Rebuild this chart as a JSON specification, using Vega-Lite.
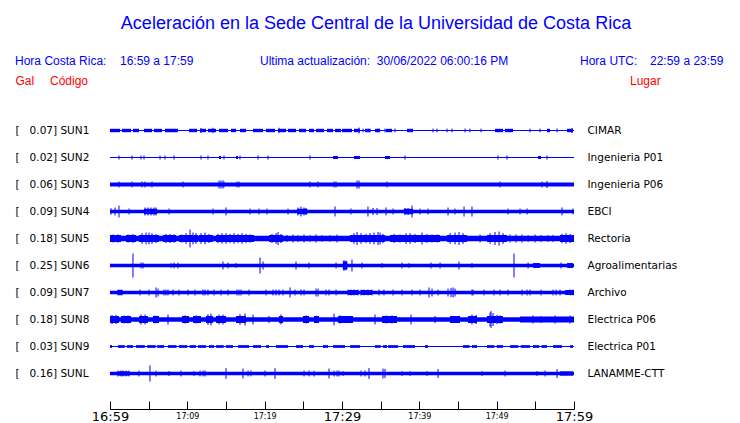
{
"$schema": "https://vega.github.io/schema/vega-lite/v6.json",
"autosize": "none",
"width": 464,
"height": 293,
"padding": {"left": 110, "top": 116, "right": 166, "bottom": 14},
"background": "white",
"config": {"view": {"stroke": null}},
"title": {"text": "Aceleración en la Sede Central de la Universidad de Costa Rica", "font": "Liberation Sans", "fontSize": 18, "fontWeight": "normal", "color": "#0000ff", "anchor": "middle", "frame": "group", "dx": 34, "offset": 22},
"datasets": {
"seg": [
{"t":0,"t2":60,"lo":-0.019,"hi":0.019},
{"t":0,"t2":1.29,"lo":-0.063,"hi":0.063},{"t":1.55,"t2":2.72,"lo":-0.063,"hi":0.063},{"t":2.97,"t2":3.75,"lo":-0.063,"hi":0.063},{"t":4.4,"t2":5.43,"lo":-0.063,"hi":0.063},{"t":5.69,"t2":6.72,"lo":-0.063,"hi":0.063},{"t":7.11,"t2":8.79,"lo":-0.063,"hi":0.063},{"t":10.22,"t2":11.25,"lo":-0.063,"hi":0.063},{"t":11.64,"t2":12.41,"lo":-0.063,"hi":0.063},{"t":12.67,"t2":13.71,"lo":-0.063,"hi":0.063},{"t":14.1,"t2":15.26,"lo":-0.063,"hi":0.063},{"t":15.65,"t2":16.29,"lo":-0.063,"hi":0.063},{"t":16.81,"t2":17.59,"lo":-0.063,"hi":0.063},{"t":18.49,"t2":19.79,"lo":-0.063,"hi":0.063},{"t":20.17,"t2":21.34,"lo":-0.063,"hi":0.063},{"t":21.72,"t2":22.76,"lo":-0.063,"hi":0.063},{"t":23.02,"t2":24.05,"lo":-0.063,"hi":0.063},{"t":24.44,"t2":25.35,"lo":-0.063,"hi":0.063},{"t":25.73,"t2":26.38,"lo":-0.063,"hi":0.063},{"t":26.64,"t2":27.67,"lo":-0.063,"hi":0.063},{"t":28.06,"t2":28.84,"lo":-0.063,"hi":0.063},{"t":29.1,"t2":29.87,"lo":-0.063,"hi":0.063},{"t":30.0,"t2":31.29,"lo":-0.063,"hi":0.063},{"t":31.55,"t2":32.33,"lo":-0.063,"hi":0.063},{"t":32.98,"t2":33.62,"lo":-0.063,"hi":0.063},{"t":34.27,"t2":34.92,"lo":-0.063,"hi":0.063},{"t":35.69,"t2":36.47,"lo":-0.063,"hi":0.063},{"t":38.41,"t2":39.18,"lo":-0.063,"hi":0.063},{"t":49.79,"t2":50.82,"lo":-0.063,"hi":0.063},{"t":51.08,"t2":52.11,"lo":-0.063,"hi":0.063},{"t":56.51,"t2":56.9,"lo":-0.063,"hi":0.063},{"t":59.1,"t2":59.87,"lo":-0.063,"hi":0.063},
{"t":0,"t2":60,"lo":0.981,"hi":1.019},
{"t":14.1,"t2":14.35,"lo":0.945,"hi":1.055},{"t":16.29,"t2":16.55,"lo":0.945,"hi":1.055},{"t":28.84,"t2":29.48,"lo":0.945,"hi":1.055},{"t":31.55,"t2":32.33,"lo":0.945,"hi":1.055},{"t":35.56,"t2":36.21,"lo":0.945,"hi":1.055},{"t":55.35,"t2":55.73,"lo":0.945,"hi":1.055},
{"t":0,"t2":60,"lo":1.926,"hi":2.074},
{"t":0,"t2":60,"lo":2.938,"hi":3.062},
{"t":4.4,"t2":6.1,"lo":2.9,"hi":3.1},{"t":24.2,"t2":25.5,"lo":2.9,"hi":3.1},{"t":38.0,"t2":39.2,"lo":2.9,"hi":3.1},
{"t":0,"t2":60,"lo":3.9,"hi":4.1},
{"t":0,"t2":1.42,"lo":3.87,"hi":4.13},{"t":2.07,"t2":3.36,"lo":3.87,"hi":4.13},{"t":3.75,"t2":6.34,"lo":3.87,"hi":4.13},{"t":6.85,"t2":8.54,"lo":3.87,"hi":4.13},{"t":8.92,"t2":11.38,"lo":3.87,"hi":4.13},{"t":11.51,"t2":13.32,"lo":3.87,"hi":4.13},{"t":13.71,"t2":18.62,"lo":3.87,"hi":4.13},{"t":20.56,"t2":22.37,"lo":3.87,"hi":4.13},{"t":31.04,"t2":35.56,"lo":3.87,"hi":4.13},{"t":36.21,"t2":42.68,"lo":3.87,"hi":4.13},{"t":43.58,"t2":46.17,"lo":3.87,"hi":4.13},{"t":48.75,"t2":51.34,"lo":3.87,"hi":4.13},{"t":58.19,"t2":60,"lo":3.87,"hi":4.13},
{"t":0,"t2":60,"lo":4.937,"hi":5.063},
{"t":54.7,"t2":55.61,"lo":4.91,"hi":5.09},{"t":59.1,"t2":59.87,"lo":4.91,"hi":5.09},{"t":30.1,"t2":30.7,"lo":4.85,"hi":5.15},
{"t":0,"t2":60,"lo":5.937,"hi":6.063},
{"t":1.0,"t2":1.6,"lo":5.91,"hi":6.09},{"t":30.78,"t2":32.07,"lo":5.91,"hi":6.09},{"t":32.46,"t2":33.88,"lo":5.91,"hi":6.09},{"t":58.84,"t2":60,"lo":5.91,"hi":6.09},
{"t":0,"t2":60,"lo":6.915,"hi":7.085},
{"t":0,"t2":1.16,"lo":6.87,"hi":7.13},{"t":1.42,"t2":2.72,"lo":6.87,"hi":7.13},{"t":3.75,"t2":4.91,"lo":6.87,"hi":7.13},{"t":5.56,"t2":6.34,"lo":6.87,"hi":7.13},{"t":9.31,"t2":10.22,"lo":6.87,"hi":7.13},{"t":10.73,"t2":11.77,"lo":6.87,"hi":7.13},{"t":12.41,"t2":13.32,"lo":6.87,"hi":7.13},{"t":13.71,"t2":15.0,"lo":6.87,"hi":7.13},{"t":16.29,"t2":17.59,"lo":6.87,"hi":7.13},{"t":21.86,"t2":22.37,"lo":6.87,"hi":7.13},{"t":24.96,"t2":25.73,"lo":6.87,"hi":7.13},{"t":26.38,"t2":27.03,"lo":6.87,"hi":7.13},{"t":29.49,"t2":31.42,"lo":6.87,"hi":7.13},{"t":35.18,"t2":37.11,"lo":6.87,"hi":7.13},{"t":43.97,"t2":45.26,"lo":6.87,"hi":7.13},{"t":46.3,"t2":47.46,"lo":6.87,"hi":7.13},{"t":48.75,"t2":50.82,"lo":6.87,"hi":7.13},{"t":53.02,"t2":60,"lo":6.89,"hi":7.11},
{"t":0,"t2":60,"lo":7.981,"hi":8.019},
{"t":0,"t2":0.26,"lo":7.95,"hi":8.05},{"t":1.03,"t2":1.9,"lo":7.95,"hi":8.05},{"t":2.2,"t2":2.97,"lo":7.95,"hi":8.05},{"t":3.36,"t2":4.5,"lo":7.95,"hi":8.05},{"t":4.8,"t2":5.9,"lo":7.95,"hi":8.05},{"t":6.1,"t2":6.98,"lo":7.95,"hi":8.05},{"t":7.5,"t2":8.6,"lo":7.95,"hi":8.05},{"t":8.9,"t2":10.0,"lo":7.95,"hi":8.05},{"t":10.3,"t2":11.12,"lo":7.95,"hi":8.05},{"t":11.38,"t2":12.41,"lo":7.95,"hi":8.05},{"t":12.8,"t2":13.45,"lo":7.95,"hi":8.05},{"t":13.71,"t2":14.7,"lo":7.95,"hi":8.05},{"t":15.0,"t2":15.91,"lo":7.95,"hi":8.05},{"t":16.55,"t2":17.98,"lo":7.95,"hi":8.05},{"t":18.49,"t2":19.53,"lo":7.95,"hi":8.05},{"t":20.17,"t2":20.56,"lo":7.95,"hi":8.05},{"t":21.47,"t2":23.02,"lo":7.95,"hi":8.05},{"t":24.05,"t2":24.96,"lo":7.95,"hi":8.05},{"t":25.73,"t2":26.38,"lo":7.95,"hi":8.05},{"t":27.54,"t2":28.19,"lo":7.95,"hi":8.05},{"t":28.84,"t2":30.39,"lo":7.95,"hi":8.05},{"t":31.04,"t2":32.33,"lo":7.95,"hi":8.05},{"t":34.27,"t2":35.0,"lo":7.95,"hi":8.05},{"t":35.3,"t2":35.82,"lo":7.95,"hi":8.05},{"t":35.95,"t2":37.24,"lo":7.95,"hi":8.05},{"t":37.89,"t2":39.44,"lo":7.95,"hi":8.05},{"t":40.74,"t2":41.12,"lo":7.95,"hi":8.05},{"t":45.65,"t2":46.5,"lo":7.95,"hi":8.05},{"t":46.8,"t2":47.46,"lo":7.95,"hi":8.05},{"t":48.75,"t2":49.7,"lo":7.95,"hi":8.05},{"t":50.0,"t2":50.82,"lo":7.95,"hi":8.05},{"t":51.73,"t2":52.8,"lo":7.95,"hi":8.05},{"t":53.1,"t2":54.31,"lo":7.95,"hi":8.05},{"t":54.7,"t2":55.5,"lo":7.95,"hi":8.05},{"t":55.8,"t2":56.51,"lo":7.95,"hi":8.05},{"t":57.29,"t2":58.45,"lo":7.95,"hi":8.05},{"t":59.49,"t2":59.87,"lo":7.95,"hi":8.05},
{"t":0,"t2":60,"lo":8.937,"hi":9.063},
{"t":1.03,"t2":2.46,"lo":8.92,"hi":9.08},{"t":58.19,"t2":59.87,"lo":8.92,"hi":9.08}
],
"spk": [
{"t":32.72,"lo":-0.07,"hi":0.07},{"t":33.62,"lo":-0.07,"hi":0.07},{"t":34.66,"lo":-0.07,"hi":0.07},{"t":35.56,"lo":-0.07,"hi":0.07},{"t":36.86,"lo":-0.07,"hi":0.07},{"t":41.77,"lo":-0.07,"hi":0.07},{"t":42.29,"lo":-0.07,"hi":0.07},{"t":43.58,"lo":-0.07,"hi":0.07},{"t":44.23,"lo":-0.07,"hi":0.07},{"t":45.91,"lo":-0.07,"hi":0.07},{"t":46.55,"lo":-0.07,"hi":0.07},{"t":47.98,"lo":-0.07,"hi":0.07},{"t":54.31,"lo":-0.07,"hi":0.07},{"t":55.61,"lo":-0.07,"hi":0.07},{"t":57.81,"lo":-0.07,"hi":0.07},
{"t":32.2,"lo":-0.11,"hi":0.11},{"t":21.85,"lo":-0.1,"hi":0.1},{"t":11.77,"lo":-0.09,"hi":0.09},{"t":13.32,"lo":-0.1,"hi":0.1},{"t":59.74,"lo":-0.09,"hi":0.09},
{"t":1.16,"lo":0.925,"hi":1.075},{"t":2.84,"lo":0.925,"hi":1.075},{"t":4.01,"lo":0.925,"hi":1.075},{"t":4.4,"lo":0.925,"hi":1.075},{"t":6.47,"lo":0.925,"hi":1.075},{"t":7.11,"lo":0.925,"hi":1.075},{"t":8.28,"lo":0.925,"hi":1.075},{"t":11.77,"lo":0.925,"hi":1.075},{"t":12.67,"lo":0.925,"hi":1.075},{"t":14.74,"lo":0.925,"hi":1.075},{"t":16.81,"lo":0.925,"hi":1.075},{"t":19.14,"lo":0.925,"hi":1.075},{"t":20.43,"lo":0.925,"hi":1.075},{"t":25.86,"lo":0.925,"hi":1.075},{"t":38.15,"lo":0.925,"hi":1.075},{"t":50.17,"lo":0.925,"hi":1.075},{"t":51.34,"lo":0.925,"hi":1.075},{"t":56.51,"lo":0.925,"hi":1.075},
{"t":1.16,"lo":1.89,"hi":2.11},{"t":2.84,"lo":1.89,"hi":2.11},{"t":4.14,"lo":1.89,"hi":2.11},{"t":4.53,"lo":1.89,"hi":2.11},{"t":5.43,"lo":1.89,"hi":2.11},{"t":9.44,"lo":1.89,"hi":2.11},{"t":14.74,"lo":1.89,"hi":2.11},{"t":16.42,"lo":1.89,"hi":2.11},{"t":16.68,"lo":1.89,"hi":2.11},{"t":25.86,"lo":1.89,"hi":2.11},{"t":26.9,"lo":1.89,"hi":2.11},{"t":28.97,"lo":1.89,"hi":2.11},{"t":29.23,"lo":1.89,"hi":2.11},{"t":35.82,"lo":1.89,"hi":2.11},{"t":50.43,"lo":1.89,"hi":2.11},{"t":55.87,"lo":1.89,"hi":2.11},
{"t":14.1,"lo":1.85,"hi":2.15},{"t":14.35,"lo":1.85,"hi":2.15},{"t":14.61,"lo":1.85,"hi":2.15},{"t":31.94,"lo":1.85,"hi":2.15},{"t":32.2,"lo":1.85,"hi":2.15},{"t":56.51,"lo":1.87,"hi":2.13},
{"t":0.13,"lo":2.88,"hi":3.12},{"t":0.65,"lo":2.852,"hi":3.148},{"t":1.16,"lo":2.78,"hi":3.22},{"t":2.46,"lo":2.89,"hi":3.11},{"t":4.53,"lo":2.852,"hi":3.148},{"t":4.91,"lo":2.852,"hi":3.148},{"t":5.3,"lo":2.852,"hi":3.148},{"t":5.69,"lo":2.852,"hi":3.148},{"t":5.95,"lo":2.852,"hi":3.148},{"t":7.63,"lo":2.89,"hi":3.11},{"t":13.32,"lo":2.89,"hi":3.11},{"t":15.0,"lo":2.852,"hi":3.148},{"t":18.1,"lo":2.89,"hi":3.11},{"t":19.27,"lo":2.89,"hi":3.11},{"t":20.3,"lo":2.89,"hi":3.11},{"t":23.02,"lo":2.89,"hi":3.11},{"t":24.31,"lo":2.852,"hi":3.148},{"t":24.7,"lo":2.815,"hi":3.185},{"t":25.09,"lo":2.852,"hi":3.148},{"t":25.35,"lo":2.87,"hi":3.13},{"t":29.1,"lo":2.815,"hi":3.185},{"t":31.16,"lo":2.89,"hi":3.11},{"t":33.36,"lo":2.815,"hi":3.185},{"t":34.01,"lo":2.87,"hi":3.13},{"t":34.53,"lo":2.87,"hi":3.13},{"t":35.69,"lo":2.852,"hi":3.148},{"t":36.6,"lo":2.89,"hi":3.11},{"t":38.15,"lo":2.87,"hi":3.13},{"t":38.54,"lo":2.87,"hi":3.13},{"t":39.05,"lo":2.78,"hi":3.22},{"t":40.09,"lo":2.89,"hi":3.11},{"t":41.12,"lo":2.89,"hi":3.11},{"t":43.71,"lo":2.852,"hi":3.148},{"t":44.61,"lo":2.89,"hi":3.11},{"t":45.78,"lo":2.815,"hi":3.185},{"t":46.81,"lo":2.815,"hi":3.185},{"t":51.47,"lo":2.89,"hi":3.11},{"t":53.02,"lo":2.89,"hi":3.11},{"t":53.93,"lo":2.89,"hi":3.11},{"t":58.45,"lo":2.852,"hi":3.148},{"t":59.87,"lo":2.89,"hi":3.11},
{"t":0.39,"lo":3.85,"hi":4.15},{"t":1.03,"lo":3.85,"hi":4.15},{"t":2.33,"lo":3.85,"hi":4.15},{"t":2.97,"lo":3.83,"hi":4.17},{"t":4.14,"lo":3.8,"hi":4.2},{"t":4.66,"lo":3.78,"hi":4.22},{"t":5.04,"lo":3.78,"hi":4.22},{"t":5.43,"lo":3.8,"hi":4.2},{"t":5.95,"lo":3.83,"hi":4.17},{"t":7.24,"lo":3.83,"hi":4.17},{"t":7.76,"lo":3.83,"hi":4.17},{"t":8.28,"lo":3.85,"hi":4.15},{"t":9.31,"lo":3.85,"hi":4.15},{"t":9.83,"lo":3.8,"hi":4.2},{"t":10.35,"lo":3.67,"hi":4.33},{"t":10.73,"lo":3.78,"hi":4.22},{"t":11.12,"lo":3.8,"hi":4.2},{"t":11.77,"lo":3.8,"hi":4.2},{"t":12.29,"lo":3.78,"hi":4.22},{"t":12.8,"lo":3.83,"hi":4.17},{"t":13.97,"lo":3.83,"hi":4.17},{"t":14.48,"lo":3.8,"hi":4.2},{"t":15.0,"lo":3.8,"hi":4.2},{"t":15.52,"lo":3.83,"hi":4.17},{"t":16.04,"lo":3.8,"hi":4.2},{"t":16.55,"lo":3.83,"hi":4.17},{"t":17.07,"lo":3.8,"hi":4.2},{"t":17.59,"lo":3.83,"hi":4.17},{"t":18.1,"lo":3.85,"hi":4.15},{"t":20.95,"lo":3.83,"hi":4.17},{"t":21.47,"lo":3.8,"hi":4.2},{"t":21.73,"lo":3.76,"hi":4.24},{"t":22.11,"lo":3.83,"hi":4.17},{"t":22.89,"lo":3.87,"hi":4.13},{"t":23.67,"lo":3.85,"hi":4.15},{"t":24.31,"lo":3.87,"hi":4.13},{"t":25.09,"lo":3.85,"hi":4.15},{"t":25.86,"lo":3.87,"hi":4.13},{"t":26.64,"lo":3.85,"hi":4.15},{"t":27.42,"lo":3.87,"hi":4.13},{"t":28.45,"lo":3.87,"hi":4.13},{"t":29.36,"lo":3.85,"hi":4.15},{"t":31.55,"lo":3.8,"hi":4.2},{"t":31.94,"lo":3.76,"hi":4.24},{"t":32.46,"lo":3.8,"hi":4.2},{"t":33.11,"lo":3.83,"hi":4.17},{"t":33.62,"lo":3.8,"hi":4.2},{"t":34.14,"lo":3.78,"hi":4.22},{"t":34.66,"lo":3.76,"hi":4.24},{"t":34.92,"lo":3.78,"hi":4.22},{"t":35.3,"lo":3.83,"hi":4.17},{"t":36.73,"lo":3.83,"hi":4.17},{"t":37.5,"lo":3.85,"hi":4.15},{"t":38.28,"lo":3.8,"hi":4.2},{"t":38.8,"lo":3.8,"hi":4.2},{"t":39.44,"lo":3.83,"hi":4.17},{"t":40.35,"lo":3.78,"hi":4.22},{"t":40.99,"lo":3.83,"hi":4.17},{"t":41.64,"lo":3.85,"hi":4.15},{"t":42.29,"lo":3.85,"hi":4.15},{"t":43.97,"lo":3.8,"hi":4.2},{"t":44.62,"lo":3.78,"hi":4.22},{"t":45.13,"lo":3.76,"hi":4.24},{"t":45.65,"lo":3.8,"hi":4.2},{"t":47.85,"lo":3.85,"hi":4.15},{"t":49.14,"lo":3.8,"hi":4.2},{"t":49.79,"lo":3.76,"hi":4.24},{"t":50.31,"lo":3.74,"hi":4.26},{"t":50.82,"lo":3.8,"hi":4.2},{"t":51.73,"lo":3.85,"hi":4.15},{"t":52.5,"lo":3.85,"hi":4.15},{"t":53.28,"lo":3.85,"hi":4.15},{"t":54.06,"lo":3.87,"hi":4.13},{"t":54.96,"lo":3.85,"hi":4.15},{"t":55.74,"lo":3.87,"hi":4.13},{"t":56.64,"lo":3.87,"hi":4.13},{"t":57.29,"lo":3.87,"hi":4.13},{"t":58.45,"lo":3.83,"hi":4.17},{"t":58.97,"lo":3.8,"hi":4.2},{"t":59.49,"lo":3.83,"hi":4.17},
{"t":2.97,"lo":4.556,"hi":5.444},{"t":4.01,"lo":4.89,"hi":5.11},{"t":4.27,"lo":4.89,"hi":5.11},{"t":7.89,"lo":4.91,"hi":5.09},{"t":8.28,"lo":4.89,"hi":5.11},{"t":8.79,"lo":4.89,"hi":5.11},{"t":14.61,"lo":4.852,"hi":5.148},{"t":15.26,"lo":4.89,"hi":5.11},{"t":16.29,"lo":4.91,"hi":5.09},{"t":19.4,"lo":4.704,"hi":5.296},{"t":19.79,"lo":4.852,"hi":5.148},{"t":24.05,"lo":4.852,"hi":5.148},{"t":25.73,"lo":4.89,"hi":5.11},{"t":29.23,"lo":4.89,"hi":5.11},{"t":30.26,"lo":4.8,"hi":5.2},{"t":30.52,"lo":4.82,"hi":5.18},{"t":31.29,"lo":4.78,"hi":5.22},{"t":32.59,"lo":4.89,"hi":5.11},{"t":35.18,"lo":4.91,"hi":5.09},{"t":37.76,"lo":4.89,"hi":5.11},{"t":38.67,"lo":4.91,"hi":5.09},{"t":41.51,"lo":4.89,"hi":5.11},{"t":42.68,"lo":4.89,"hi":5.11},{"t":45.13,"lo":4.852,"hi":5.148},{"t":46.81,"lo":4.91,"hi":5.09},{"t":52.24,"lo":4.556,"hi":5.444},{"t":54.06,"lo":4.89,"hi":5.11},{"t":58.32,"lo":4.89,"hi":5.11},
{"t":1.03,"lo":5.89,"hi":6.11},{"t":1.29,"lo":5.89,"hi":6.11},{"t":1.55,"lo":5.89,"hi":6.11},{"t":3.88,"lo":5.89,"hi":6.11},{"t":5.04,"lo":5.89,"hi":6.11},{"t":5.95,"lo":5.815,"hi":6.185},{"t":6.21,"lo":5.852,"hi":6.148},{"t":6.98,"lo":5.89,"hi":6.11},{"t":7.24,"lo":5.89,"hi":6.11},{"t":7.5,"lo":5.89,"hi":6.11},{"t":8.15,"lo":5.89,"hi":6.11},{"t":8.92,"lo":5.89,"hi":6.11},{"t":10.09,"lo":5.89,"hi":6.11},{"t":10.99,"lo":5.89,"hi":6.11},{"t":12.03,"lo":5.89,"hi":6.11},{"t":12.29,"lo":5.89,"hi":6.11},{"t":12.67,"lo":5.89,"hi":6.11},{"t":13.45,"lo":5.89,"hi":6.11},{"t":14.35,"lo":5.89,"hi":6.11},{"t":15.26,"lo":5.89,"hi":6.11},{"t":16.42,"lo":5.89,"hi":6.11},{"t":16.68,"lo":5.89,"hi":6.11},{"t":16.94,"lo":5.89,"hi":6.11},{"t":17.98,"lo":5.89,"hi":6.11},{"t":20.17,"lo":5.89,"hi":6.11},{"t":21.08,"lo":5.89,"hi":6.11},{"t":21.47,"lo":5.89,"hi":6.11},{"t":21.86,"lo":5.89,"hi":6.11},{"t":22.37,"lo":5.89,"hi":6.11},{"t":23.28,"lo":5.815,"hi":6.185},{"t":23.92,"lo":5.89,"hi":6.11},{"t":24.7,"lo":5.89,"hi":6.11},{"t":25.09,"lo":5.89,"hi":6.11},{"t":26.64,"lo":5.852,"hi":6.148},{"t":26.9,"lo":5.852,"hi":6.148},{"t":27.93,"lo":5.89,"hi":6.11},{"t":28.32,"lo":5.89,"hi":6.11},{"t":29.23,"lo":5.89,"hi":6.11},{"t":30.78,"lo":5.89,"hi":6.11},{"t":31.16,"lo":5.89,"hi":6.11},{"t":31.55,"lo":5.89,"hi":6.11},{"t":32.07,"lo":5.89,"hi":6.11},{"t":32.46,"lo":5.89,"hi":6.11},{"t":32.85,"lo":5.89,"hi":6.11},{"t":33.36,"lo":5.89,"hi":6.11},{"t":33.88,"lo":5.89,"hi":6.11},{"t":34.79,"lo":5.89,"hi":6.11},{"t":35.43,"lo":5.89,"hi":6.11},{"t":36.6,"lo":5.89,"hi":6.11},{"t":37.76,"lo":5.89,"hi":6.11},{"t":39.05,"lo":5.89,"hi":6.11},{"t":40.09,"lo":5.89,"hi":6.11},{"t":41.25,"lo":5.815,"hi":6.185},{"t":41.64,"lo":5.852,"hi":6.148},{"t":42.42,"lo":5.89,"hi":6.11},{"t":43.71,"lo":5.852,"hi":6.148},{"t":44.1,"lo":5.83,"hi":6.17},{"t":44.36,"lo":5.815,"hi":6.185},{"t":44.62,"lo":5.852,"hi":6.148},{"t":46.81,"lo":5.89,"hi":6.11},{"t":46.94,"lo":5.89,"hi":6.11},{"t":48.37,"lo":5.89,"hi":6.11},{"t":49.66,"lo":5.89,"hi":6.11},{"t":50.43,"lo":5.89,"hi":6.11},{"t":51.47,"lo":5.89,"hi":6.11},{"t":53.28,"lo":5.89,"hi":6.11},{"t":53.93,"lo":5.89,"hi":6.11},{"t":54.31,"lo":5.89,"hi":6.11},{"t":55.74,"lo":5.89,"hi":6.11},{"t":57.29,"lo":5.89,"hi":6.11},{"t":57.68,"lo":5.89,"hi":6.11},{"t":58.19,"lo":5.89,"hi":6.11},{"t":59.49,"lo":5.89,"hi":6.11},{"t":59.87,"lo":5.89,"hi":6.11},
{"t":0.26,"lo":6.83,"hi":7.17},{"t":0.78,"lo":6.83,"hi":7.17},{"t":1.81,"lo":6.85,"hi":7.15},{"t":2.33,"lo":6.85,"hi":7.15},{"t":4.01,"lo":6.815,"hi":7.185},{"t":4.53,"lo":6.815,"hi":7.185},{"t":5.82,"lo":6.85,"hi":7.15},{"t":7.5,"lo":6.815,"hi":7.185},{"t":9.7,"lo":6.85,"hi":7.15},{"t":11.12,"lo":6.85,"hi":7.15},{"t":12.67,"lo":6.8,"hi":7.2},{"t":13.06,"lo":6.78,"hi":7.22},{"t":14.1,"lo":6.815,"hi":7.185},{"t":14.61,"lo":6.815,"hi":7.185},{"t":16.81,"lo":6.8,"hi":7.2},{"t":17.46,"lo":6.78,"hi":7.22},{"t":18.49,"lo":6.815,"hi":7.185},{"t":20.56,"lo":6.87,"hi":7.13},{"t":22.11,"lo":6.815,"hi":7.185},{"t":25.35,"lo":6.85,"hi":7.15},{"t":26.77,"lo":6.87,"hi":7.13},{"t":28.97,"lo":6.78,"hi":7.22},{"t":29.75,"lo":6.85,"hi":7.15},{"t":34.27,"lo":6.815,"hi":7.185},{"t":35.69,"lo":6.85,"hi":7.15},{"t":36.47,"lo":6.85,"hi":7.15},{"t":38.93,"lo":6.815,"hi":7.185},{"t":42.03,"lo":6.87,"hi":7.13},{"t":44.61,"lo":6.87,"hi":7.13},{"t":46.81,"lo":6.815,"hi":7.185},{"t":47.33,"lo":6.83,"hi":7.17},{"t":49.14,"lo":6.74,"hi":7.26},{"t":49.27,"lo":6.69,"hi":7.31},{"t":49.53,"lo":6.76,"hi":7.24},{"t":50.05,"lo":6.83,"hi":7.17},{"t":50.43,"lo":6.85,"hi":7.15},{"t":54.7,"lo":6.85,"hi":7.15},{"t":55.74,"lo":6.87,"hi":7.13},{"t":57.55,"lo":6.85,"hi":7.15},{"t":59.49,"lo":6.85,"hi":7.15},
{"t":1.03,"lo":8.89,"hi":9.11},{"t":1.42,"lo":8.89,"hi":9.11},{"t":1.68,"lo":8.89,"hi":9.11},{"t":2.07,"lo":8.89,"hi":9.11},{"t":2.46,"lo":8.89,"hi":9.11},{"t":3.75,"lo":8.89,"hi":9.11},{"t":5.17,"lo":8.7,"hi":9.3},{"t":5.95,"lo":8.89,"hi":9.11},{"t":7.63,"lo":8.91,"hi":9.09},{"t":9.18,"lo":8.89,"hi":9.11},{"t":10.86,"lo":8.91,"hi":9.09},{"t":11.64,"lo":8.89,"hi":9.11},{"t":12.03,"lo":8.89,"hi":9.11},{"t":12.29,"lo":8.89,"hi":9.11},{"t":15.0,"lo":8.8,"hi":9.2},{"t":17.2,"lo":8.815,"hi":9.185},{"t":17.85,"lo":8.89,"hi":9.11},{"t":18.23,"lo":8.89,"hi":9.11},{"t":20.04,"lo":8.89,"hi":9.11},{"t":21.34,"lo":8.8,"hi":9.2},{"t":25.09,"lo":8.89,"hi":9.11},{"t":25.73,"lo":8.89,"hi":9.11},{"t":26.38,"lo":8.89,"hi":9.11},{"t":28.32,"lo":8.815,"hi":9.185},{"t":28.97,"lo":8.89,"hi":9.11},{"t":29.36,"lo":8.89,"hi":9.11},{"t":29.61,"lo":8.89,"hi":9.11},{"t":30.13,"lo":8.91,"hi":9.09},{"t":32.46,"lo":8.89,"hi":9.11},{"t":32.98,"lo":8.89,"hi":9.11},{"t":33.49,"lo":8.8,"hi":9.2},{"t":35.3,"lo":8.815,"hi":9.185},{"t":35.56,"lo":8.83,"hi":9.17},{"t":37.76,"lo":8.91,"hi":9.09},{"t":38.8,"lo":8.91,"hi":9.09},{"t":40.99,"lo":8.91,"hi":9.09},{"t":42.42,"lo":8.833,"hi":9.167},{"t":48.11,"lo":8.91,"hi":9.09},{"t":51.08,"lo":8.89,"hi":9.11},{"t":55.22,"lo":8.91,"hi":9.09},{"t":56.25,"lo":8.89,"hi":9.11},{"t":57.81,"lo":8.833,"hi":9.167}
],
"hdr": [
{"txt":"Hora Costa Rica:","x":-12.28,"y":-2.556,"g":"a"},
{"txt":"16:59 a 17:59","x":1.29,"y":-2.556,"g":"a"},
{"txt":"Ultima actualización:\u00a0\u00a030/06/2022 06:00:16 PM","x":19.4,"y":-2.556,"g":"a"},
{"txt":"Hora UTC:","x":60.78,"y":-2.556,"g":"a"},
{"txt":"22:59 a 23:59","x":69.83,"y":-2.556,"g":"a"},
{"txt":"Gal","x":-12.22,"y":-1.815,"g":"b"},
{"txt":"Código","x":-7.76,"y":-1.815,"g":"b"},
{"txt":"Lugar","x":67.24,"y":-1.815,"g":"b"}
]
},
"resolve": {"axis": {"y": "independent", "x": "independent"}},
"layer": [
{
"data": {"name": "seg"},
"mark": {"type": "rect", "color": "#0000ff", "clip": false},
"encoding": {
"x": {"field": "t", "type": "quantitative", "scale": {"domain": [0, 60], "nice": false, "zero": false},
"axis": {"values": [0,5,10,15,20,25,30,35,40,45,50,55,60], "labelExpr": "datum.value % 10 === 0 ? (16 + floor((59 + datum.value) / 60)) + ':' + (((59 + datum.value) % 60) < 10 ? '0' : '') + ((59 + datum.value) % 60) : ''", "title": null, "grid": false, "domainColor": "black", "tickColor": "black", "tickSize": -8, "labelPadding": 15, "labelBaseline": "middle", "labelFont": "DejaVu Sans", "labelColor": "black", "labelFontSize": {"condition": {"test": "datum.value % 30 === 0", "value": 13}, "value": 8}, "labelAngle": 0, "labelFlush": false, "labelOverlap": false}},
"x2": {"field": "t2"},
"y": {"field": "lo", "type": "quantitative", "scale": {"domain": [-0.537, 10.315], "reverse": true, "nice": false, "zero": false},
"axis": {"orient": "left", "values": [0,1,2,3,4,5,6,7,8,9], "labelExpr": "['[\u00a0\u00a0\u00a00.07]\u00a0SUN1','[\u00a0\u00a0\u00a00.02]\u00a0SUN2','[\u00a0\u00a0\u00a00.06]\u00a0SUN3','[\u00a0\u00a0\u00a00.09]\u00a0SUN4','[\u00a0\u00a0\u00a00.18]\u00a0SUN5','[\u00a0\u00a0\u00a00.25]\u00a0SUN6','[\u00a0\u00a0\u00a00.09]\u00a0SUN7','[\u00a0\u00a0\u00a00.18]\u00a0SUN8','[\u00a0\u00a0\u00a00.03]\u00a0SUN9','[\u00a0\u00a0\u00a00.16]\u00a0SUNL'][datum.value]", "title": null, "grid": false, "domain": false, "ticks": false, "labelAlign": "left", "labelPadding": 95, "labelFont": "DejaVu Sans", "labelFontSize": 10.5, "labelColor": "black", "labelOverlap": false}},
"y2": {"field": "hi"}
}
},
{
"data": {"name": "spk"},
"mark": {"type": "rule", "color": "#0000ff", "strokeWidth": 1, "clip": false},
"encoding": {
"x": {"field": "t", "type": "quantitative", "scale": {"domain": [0, 60], "nice": false, "zero": false}, "axis": null},
"y": {"field": "lo", "type": "quantitative", "scale": {"domain": [-0.537, 10.315], "reverse": true, "nice": false, "zero": false},
"axis": {"orient": "right", "values": [0,1,2,3,4,5,6,7,8,9], "labelExpr": "['CIMAR','Ingenieria P01','Ingenieria P06','EBCI','Rectoria','Agroalimentarias','Archivo','Electrica P06','Electrica P01','LANAMME-CTT'][datum.value]", "title": null, "grid": false, "domain": false, "ticks": false, "labelAlign": "left", "labelPadding": 13, "labelFont": "DejaVu Sans", "labelFontSize": 10.5, "labelColor": "black", "labelOverlap": false}},
"y2": {"field": "hi"}
}
},
{
"data": {"name": "hdr"},
"mark": {"type": "text", "align": "left", "baseline": "middle", "font": "Liberation Sans", "fontSize": 12, "clip": false},
"encoding": {
"x": {"field": "x", "type": "quantitative", "scale": {"domain": [0, 60], "nice": false, "zero": false}, "axis": null},
"y": {"field": "y", "type": "quantitative", "scale": {"domain": [-0.537, 10.315], "reverse": true, "nice": false, "zero": false}, "axis": null},
"text": {"field": "txt"},
"color": {"field": "g", "type": "nominal", "scale": {"domain": ["a", "b"], "range": ["#0000ff", "#ff0000"]}, "legend": null}
}
}
]
}
